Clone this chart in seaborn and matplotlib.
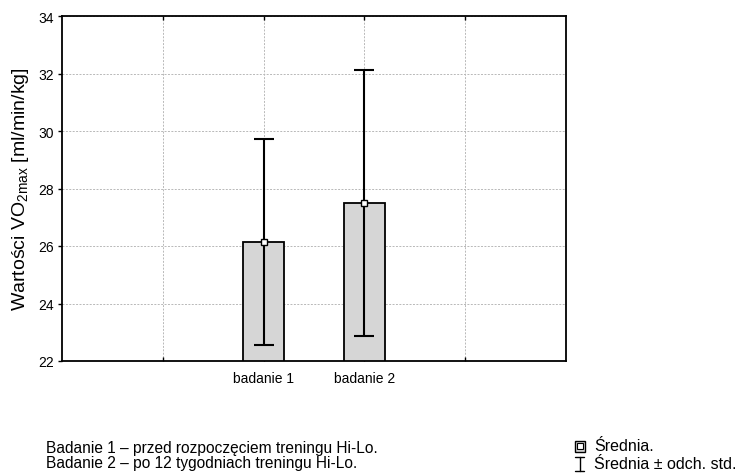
import matplotlib
matplotlib.use("Agg")
import matplotlib.pyplot as plt
import seaborn as sns
import pandas as pd
from matplotlib.lines import Line2D
from matplotlib.patches import Rectangle

# Values
groups = ["badanie 1", "badanie 2"]
means = [26.15, 27.50]
sds = [3.58, 4.63]

df = pd.DataFrame({"group": groups, "mean": means, "sd": sds})

sns.set_style("white")
plt.rcParams["font.family"] = ["Liberation Sans", "DejaVu Sans"]
plt.rcParams.update({"text.color": "black", "axes.labelcolor": "black",
                     "xtick.color": "black", "ytick.color": "black"})

fig = plt.figure(figsize=(7.41, 4.77), dpi=100)
ax = fig.add_axes([62 / 741, 1 - 362 / 477, 504 / 741, 345 / 477])

sns.barplot(data=df, x="group", y="mean", ax=ax, color="#d6d6d6",
            edgecolor="black", linewidth=1.3, width=0.4, saturation=1,
            errorbar=None, zorder=2)

# mean +/- std whiskers, with the mean as a white square
ax.errorbar(range(len(groups)), df["mean"], yerr=df["sd"], fmt="none",
            ecolor="black", elinewidth=1.5, capsize=7.5, capthick=1.5, zorder=3)
ax.plot(range(len(groups)), df["mean"], ls="none", marker="s", ms=5,
        mfc="white", mec="black", mew=1, zorder=4)

ax.set_xlim(-2, 3)
ax.set_ylim(22, 34)
ax.set_yticks(range(22, 35, 2))
ax.set_xticks([-1, 0, 1, 2])
ax.set_xticklabels(["", groups[0], groups[1], ""], fontsize=10)
ax.tick_params(axis="y", labelsize=10, direction="out", length=3, width=1,
               left=True, right=False, pad=3)
ax.tick_params(axis="x", direction="in", length=3, width=1, top=True,
               bottom=True, pad=7)
ax.set_xlabel("")
ax.set_ylabel(r"Wartości VO$_{\mathregular{2max}}$ [ml/min/kg]", fontsize=14,
              labelpad=5)

ax.grid(True, ls=(0, (2, 1.5)), color="#b8b8b8", lw=0.7, zorder=0)
ax.set_axisbelow(True)
for s in ax.spines.values():
    s.set_visible(True)
    s.set_color("black")
    s.set_linewidth(1.3)

# notes under the chart
fig.text(46 / 741, 1 - 448 / 477, "Badanie 1 – przed rozpoczęciem treningu Hi-Lo.",
         fontsize=11.2, va="center")
fig.text(46 / 741, 1 - 464 / 477, "Badanie 2 – po 12 tygodniach treningu Hi-Lo.",
         fontsize=11.2, va="center")

# hand-drawn legend
fig.add_artist(Rectangle((574.5 / 741, 1 - 452.5 / 477), 10 / 741, 11 / 477,
                         transform=fig.transFigure, facecolor="#d6d6d6",
                         edgecolor="black", lw=1))
fig.add_artist(Line2D([579.5 / 741], [1 - 447 / 477], transform=fig.transFigure,
                      marker="s", ms=4, mfc="white", mec="black", mew=0.8, ls="none"))
fig.text(594 / 741, 1 - 447 / 477, "Średnia.", fontsize=11.5, va="center")
fig.add_artist(Line2D([579.5 / 741, 579.5 / 741], [1 - 458 / 477, 1 - 472 / 477],
                      transform=fig.transFigure, color="black", lw=1))
fig.add_artist(Line2D([575 / 741, 584 / 741], [1 - 458 / 477, 1 - 458 / 477],
                      transform=fig.transFigure, color="black", lw=1))
fig.add_artist(Line2D([575 / 741, 584 / 741], [1 - 472 / 477, 1 - 472 / 477],
                      transform=fig.transFigure, color="black", lw=1))
fig.text(594 / 741, 1 - 465 / 477, "Średnia ± odch. std.", fontsize=11.5, va="center")

fig.savefig("out.png", dpi=100)
